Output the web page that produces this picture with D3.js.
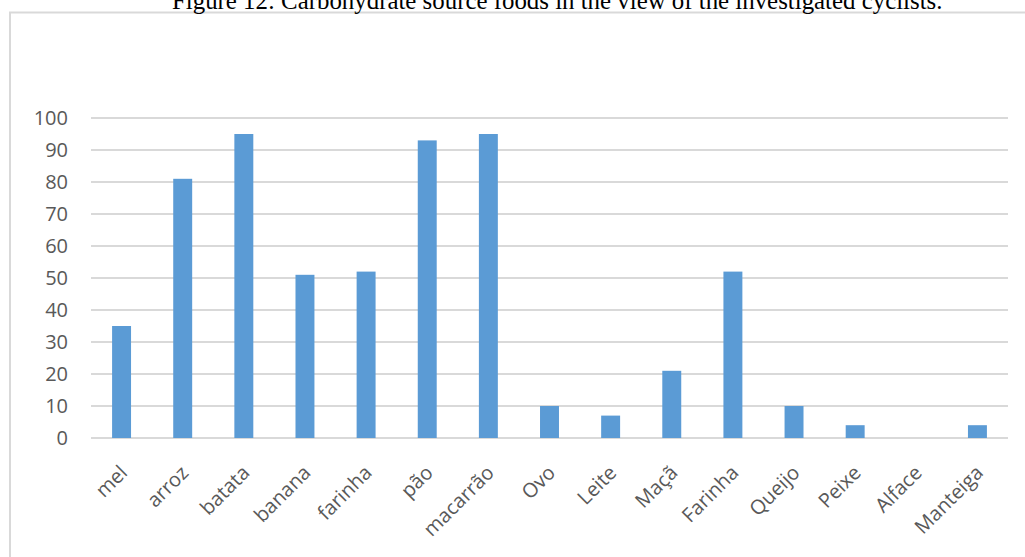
<!DOCTYPE html>
<html><head><meta charset="utf-8">
<script src="https://cdn.jsdelivr.net/npm/d3@7"></script>
<style>body{margin:0;background:#fff;overflow:hidden}svg{display:block}</style>
</head><body>
<svg id="c" width="1025" height="557"></svg>
<script>
const categories = ["mel","arroz","batata","banana","farinha","pão","macarrão","Ovo","Leite","Maçã","Farinha","Queijo","Peixe","Alface","Manteiga"];
const values = [35,81,95,51,52,93,95,10,7,21,52,10,4,0,4];
const yTicks = [0,10,20,30,40,50,60,70,80,90,100];
const title = "Figure 12: Carbohydrate source foods in the view of the investigated cyclists.";

const svg = d3.select("#c");
svg.append("rect").attr("x",10).attr("y",12.5).attr("width",1030).attr("height",560)
  .attr("fill","none").attr("stroke","#d9d9d9").attr("stroke-width",2);
const t = svg.append("text").attr("x",172).attr("y",9)
  .attr("font-family","Liberation Serif").attr("font-size",20).attr("fill","#000").text(title);
const tl = t.node().getComputedTextLength();
t.attr("font-size", 20*771/tl);

const x = d3.scaleBand().domain(categories).range([91,1008]).paddingInner(0.69).paddingOuter(0.345);
const y = d3.scaleLinear().domain([0,100]).range([438,118]);

const grid = svg.append("g");
grid.selectAll("line").data(yTicks).join("line")
  .attr("x1",91).attr("x2",1008).attr("y1",d=>y(d)).attr("y2",d=>y(d))
  .attr("stroke","#d9d9d9").attr("stroke-width",2);

const yAxis = svg.append("g").attr("transform","translate(68,0)")
  .call(d3.axisLeft(y).tickValues(yTicks).tickSize(0).tickPadding(0));
yAxis.select(".domain").remove();
yAxis.selectAll("text").attr("font-family","Open Sans").attr("font-size",20).attr("fill","#595959");

svg.append("g").selectAll("rect").data(values).join("rect")
  .attr("x",(d,i)=>x(categories[i])).attr("width",x.bandwidth())
  .attr("y",d=>y(d)).attr("height",d=>y(0)-y(d)).attr("fill","#5b9bd5");

const xAxis = svg.append("g").attr("transform","translate(0,438)")
  .call(d3.axisBottom(x).tickSize(0).tickPadding(0));
xAxis.select(".domain").remove();
xAxis.selectAll("text")
  .attr("font-family","Open Sans").attr("font-size",20).attr("fill","#595959")
  .attr("text-anchor","end").attr("y",0).attr("dy",0)
  .attr("transform","translate(7,36) rotate(-45)");
</script>
</body></html>
